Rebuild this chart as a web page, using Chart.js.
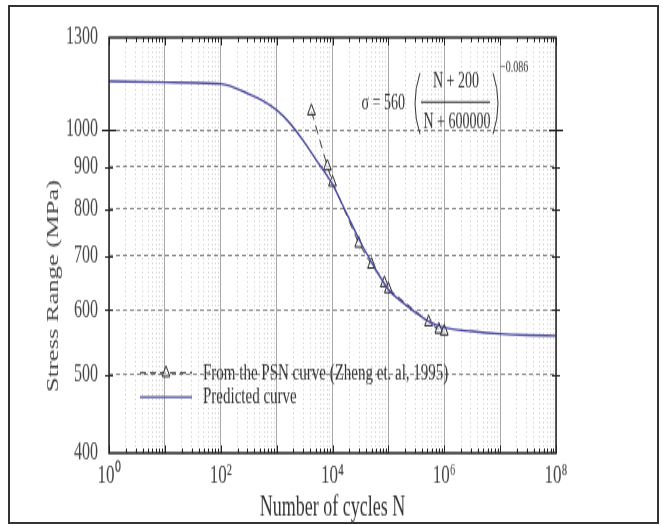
<!DOCTYPE html>
<html lang="en">
<head>
<meta charset="UTF-8">
<title>Stress range vs number of cycles</title>
<script src="https://cdn.jsdelivr.net/npm/chart.js"></script>
<style>
  html, body { margin: 0; padding: 0; background: #fff; }
  #page { position: relative; width: 663px; height: 525px; overflow: hidden; }
  /* the source figure is stretched vertically, so the chart is drawn at 336px and scaled up */
  #stretch { position: absolute; left: 0; top: 0; width: 663px; height: 336px; transform: scaleY(1.5625); transform-origin: 0 0; }
  #frame { position: absolute; left: 8px; top: 5px; width: 651px; height: 519px; border: 2px solid #333; box-sizing: border-box; pointer-events: none; }
</style>
</head>
<body>
<div id="page">
  <div id="stretch"><canvas id="snChart"></canvas></div>
  <div id="frame"></div>
</div>
<script>
// predicted curve, values
const predCycles = [1, 10, 100, 316, 562, 1000, 1780, 3160, 5620, 10000, 17800, 31600, 56200, 100000, 178000, 316000, 562000, 1000000, 3160000, 10000000, 31600000, 100000000];
const predStress = [1148, 1145, 1140, 1108, 1087, 1058, 1017, 965, 910, 857, 790, 728, 678, 636, 614, 595, 580, 571, 565, 561, 559, 558];

// points from the PSN curve (Zheng et al. 1995)
const psnCycles = [4200, 8100, 10000, 29500, 50000, 85000, 100000, 525000, 800000, 1000000];
const psnStress = [1055, 902, 862, 725, 683, 648, 637, 580, 568, 565];

// tick labels
const xLabelValues = [1, 100, 10000, 1000000, 100000000];
const xTickLabels = ['10⁰', '10²', '10⁴', '10⁶', '10⁸'];
const yTickValues = [400, 500, 600, 700, 800, 900, 1000, 1300];
const yTickLabels = ['400', '500', '600', '700', '800', '900', '1000', '1300'];

// all minor positions 1..9 x 10^k on the log axis
const xTickValues = [];
for (let k = 0; k < 8; k++) {
    for (let m = 1; m < 10; m++) xTickValues.push(m * Math.pow(10, k));
}
xTickValues.push(100000000);

function isDecade(v) {
    const l = Math.log10(v);
    return Math.abs(l - Math.round(l)) < 1e-9;
}

Chart.defaults.font.family = '"Liberation Serif", "Times New Roman", serif';

// frame around the plot plus the small tick marks on all four sides
const frameTicks = {
    id: 'frameTicks',
    afterDraw(chart) {
        const ctx = chart.ctx;
        const a = chart.chartArea;
        const xs = chart.scales.x, ys = chart.scales.y;
        ctx.save();
        ctx.strokeStyle = '#222';
        ctx.lineWidth = 1;
        ctx.beginPath();
        xs.ticks.forEach(t => {
            const px = Math.round(xs.getPixelForValue(t.value)) + 0.5;
            const len = isDecade(t.value) ? 5 : 3;
            ctx.moveTo(px, a.bottom); ctx.lineTo(px, a.bottom - len);
            ctx.moveTo(px, a.top); ctx.lineTo(px, a.top + len);
        });
        ys.ticks.forEach(t => {
            if (t.value === 400 || t.value === 1300) return;
            const py = Math.round(ys.getPixelForValue(t.value)) + 0.5;
            const len = t.value === 1000 ? 7 : 4;
            ctx.moveTo(a.left - len, py); ctx.lineTo(a.left + len, py);
            ctx.moveTo(a.right - len, py); ctx.lineTo(a.right + len, py);
        });
        ctx.stroke();
        ctx.lineWidth = 1.5;
        ctx.strokeRect(a.left, a.top, a.right - a.left, a.bottom - a.top);
        ctx.restore();
    }
};

// y title, legend and the fitted equation
const annotations = {
    id: 'annotations',
    afterDraw(chart) {
        const ctx = chart.ctx;
        ctx.save();

        ctx.fillStyle = '#444';
        ctx.font = '17px "Liberation Serif"';
        ctx.textAlign = 'center';
        ctx.textBaseline = 'middle';
        ctx.translate(54, 183);
        ctx.rotate(-Math.PI / 2);
        ctx.fillText('Stress Range (MPa)', 0, 0);
        ctx.setTransform(1, 0, 0, 1, 0, 0);

        // legend
        const d0 = chart.data.datasets[0], d1 = chart.data.datasets[1];
        const ly1 = 238.7, ly2 = 254.1;
        ctx.lineWidth = 1;
        ctx.strokeStyle = d1.borderColor;
        ctx.setLineDash(d1.borderDash);
        ctx.beginPath(); ctx.moveTo(140, ly1); ctx.lineTo(192, ly1); ctx.stroke();
        ctx.setLineDash([]);
        const r = d1.pointRadius;
        ctx.fillStyle = d1.pointBackgroundColor;
        ctx.strokeStyle = d1.pointBorderColor;
        ctx.beginPath();
        ctx.moveTo(166, ly1 - r);
        ctx.lineTo(166 + r * 0.866, ly1 + r / 2);
        ctx.lineTo(166 - r * 0.866, ly1 + r / 2);
        ctx.closePath(); ctx.fill(); ctx.stroke();
        ctx.strokeStyle = d0.borderColor;
        ctx.lineWidth = d0.borderWidth;
        ctx.beginPath(); ctx.moveTo(140, ly2); ctx.lineTo(192, ly2); ctx.stroke();

        ctx.fillStyle = '#333';
        ctx.font = '15px "Liberation Serif"';
        ctx.textAlign = 'left';
        ctx.fillText(d1.label, 203, ly1);
        ctx.fillText(d0.label, 203, ly2);

        // equation
        ctx.font = '14px "Liberation Serif"';
        ctx.textAlign = 'right';
        ctx.fillText('σ = 560', 405, 65.9);
        ctx.textAlign = 'center';
        ctx.fillText('N + 200', 456, 52.5);
        ctx.fillText('N + 600000', 457, 78);
        ctx.strokeStyle = '#333';
        ctx.lineWidth = 1;
        ctx.beginPath();
        ctx.moveTo(421, 65.3); ctx.lineTo(490, 65.3);
        ctx.moveTo(420, 46.7); ctx.quadraticCurveTo(410, 66.3, 420, 85.8);
        ctx.moveTo(493, 46.7); ctx.quadraticCurveTo(503, 66.3, 493, 85.8);
        ctx.stroke();
        ctx.font = '10px "Liberation Serif"';
        ctx.textAlign = 'left';
        ctx.fillText('−0.086', 500, 42.9);

        ctx.restore();
    }
};

const ctxSN = document.getElementById('snChart').getContext('2d');

new Chart(ctxSN, {
    type: 'line',
    data: {
        datasets: [{
            label: 'Predicted curve',
            data: predCycles.map((n, i) => ({ x: n, y: predStress[i] })),
            borderColor: '#4848a0',
            borderWidth: 1.4,
            pointRadius: 0,
            cubicInterpolationMode: 'monotone',
            fill: false
        }, {
            label: 'From the PSN curve (Zheng et. al, 1995)',
            data: psnCycles.map((n, i) => ({ x: n, y: psnStress[i] })),
            borderColor: '#333',
            borderWidth: 1,
            borderDash: [6, 4],
            pointStyle: 'triangle',
            pointRadius: 4.5,
            pointBorderColor: '#222',
            pointBackgroundColor: 'rgba(255,255,255,0.6)',
            pointBorderWidth: 1,
            tension: 0,
            fill: false
        }]
    },
    options: {
        responsive: true,
        maintainAspectRatio: false,
        animation: false,
        layout: { padding: { top: 24, right: 107, left: 0, bottom: 0 } },
        plugins: { legend: { display: false }, tooltip: { enabled: false } },
        scales: {
            x: {
                type: 'logarithmic',
                min: 1,
                max: 100000000,
                afterBuildTicks: s => { s.ticks = xTickValues.map(v => ({ value: v })); },
                afterFit: s => { s.height = 46; },
                grid: {
                    drawTicks: false,
                    color: c => (c.tick && isDecade(c.tick.value)) ? '#a8a8a8' : '#d2d2d2',
                    lineWidth: 1
                },
                border: { display: false, dash: c => (c.tick && isDecade(c.tick.value)) ? [] : [1, 2] },
                ticks: {
                    autoSkip: false,
                    maxRotation: 0,
                    minRotation: 0,
                    padding: 4,
                    color: '#444',
                    font: { size: 17 },
                    callback: v => {
                        const i = xLabelValues.indexOf(v);
                        return i >= 0 ? xTickLabels[i] : '';
                    }
                },
                title: {
                    display: true,
                    text: 'Number of cycles N',
                    color: '#333',
                    font: { size: 18 },
                    padding: { top: 0, bottom: 0 }
                }
            },
            y: {
                type: 'logarithmic',
                min: 400,
                max: 1300,
                afterBuildTicks: s => { s.ticks = yTickValues.map(v => ({ value: v })); },
                afterFit: s => { s.width = 109; },
                grid: {
                    drawTicks: false,
                    color: c => (c.tick && (c.tick.value === 400 || c.tick.value === 1300)) ? 'rgba(0,0,0,0)' : '#8c8c8c'
                },
                border: { display: false, dash: [4, 3] },
                ticks: {
                    autoSkip: false,
                    padding: 11,
                    color: '#444',
                    font: { size: 16 },
                    callback: v => {
                        const i = yTickValues.indexOf(v);
                        return i >= 0 ? yTickLabels[i] : '';
                    }
                }
            }
        }
    },
    plugins: [frameTicks, annotations]
});
</script>
</body>
</html>
